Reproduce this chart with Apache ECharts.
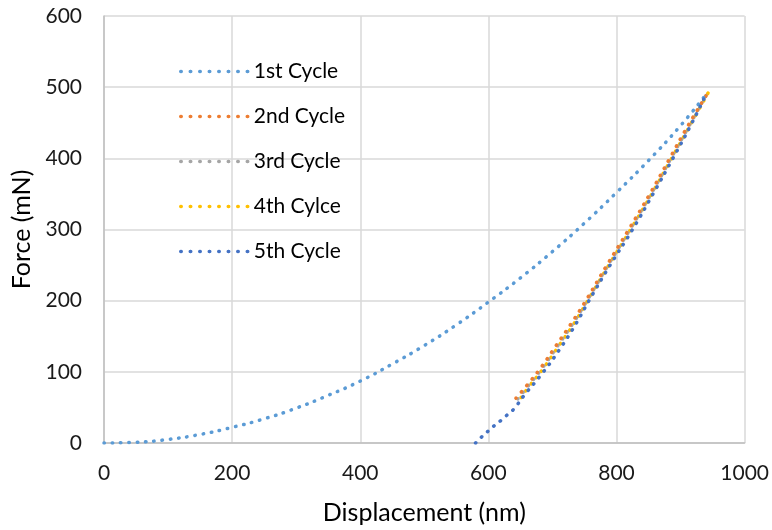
<!DOCTYPE html>
<html>
<head>
	<meta charset="utf-8">
	<script type="text/javascript" src="https://cdn.jsdelivr.net/npm/echarts@6/dist/echarts.min.js"></script>
</head>
<body style="margin:0;">
	<div id="main" style="width: 772px; height:530px; position:absolute;"></div>

	<script type="text/javascript">

		// [displacement nm, force mN]
		var cycle1 = [[0,0],[50,1],[100,5],[150,12],[200,22],[250,34],[300,49],[350,67],[400,87],[450,111],[500,137],[550,166],[600,198],[650,232],[700,269],[750,309],[800,352],[850,397],[900,446],[940,490]];
		var cycle2 = [[643,63],[660,81],[682,106],[705,136],[730,169],[752,200],[785,250],[819,300],[852,350],[883,400],[911,445],[944,494]];
		var cycle3 = [[646,62],[662,80],[684,105],[707,135],[732,168],[754,200],[787,250],[821,300],[854,350],[885,400],[913,445],[942,492]];
		var cycle4 = [[651,64],[664,80],[685,104],[708,134],[733,167],[755,200],[788,250],[822,300],[855,350],[886,400],[914,445],[943,492]];
		var cycle5 = [[580,0],[590,9],[600,17],[610,25],[620,32],[630,40],[640,48],[655,66],[686,100],[710,130],[735,165],[757,200],[790,250],[825,300],[857,350],[888,400],[915,445],[940,490]];

		var names = ['1st Cycle','2nd Cycle','3rd Cycle','4th Cylce','5th Cycle'];
		var colors = ['#5B9BD5','#ED7D31','#A5A5A5','#FFC000','#4472C4'];
		var allData = [cycle1, cycle2, cycle3, cycle4, cycle5];

		var font = 'Lato, "Open Sans", sans-serif';

		var series = [];
		for (var i = 0; i < allData.length; i++) {
			series.push({
				name: names[i],
				type: 'line',
				data: allData[i],
				smooth: true,
				symbol: 'none',
				showSymbol: false,
				z: i == 4 ? 10 : 5 - i,
				lineStyle: {
					color: colors[i],
					width: 3.5,
					type: [0.5, 7.8],
					cap: 'round'
				}
			});
		}

		var chart = echarts.init(document.getElementById('main'));
		chart.setOption({
			animation: false,
			color: colors,
			grid: { left: 104, right: 26, top: 16, bottom: 85 },
			legend: {
				orient: 'vertical',
				left: 174,
				top: 56,
				itemWidth: 68,
				itemHeight: 14,
				itemGap: 24,
				data: names,
				itemStyle: { opacity: 0 },
				lineStyle: { width: 3.5, type: [0.5, 9], cap: 'round' },
				textStyle: { fontSize: 21, color: '#000', fontFamily: font }
			},
			xAxis: {
				type: 'value',
				min: 0, max: 1000, interval: 200,
				name: 'Displacement (nm)',
				nameLocation: 'middle',
				nameGap: 57,
				nameTextStyle: { fontSize: 25, color: '#000', fontFamily: font },
				axisLine: { show: true, lineStyle: { color: '#bfbfbf', width: 1.5 } },
				axisTick: { show: false },
				axisLabel: { fontSize: 21, color: '#1a1a1a', margin: 20, fontFamily: font,
					formatter: function (v) { return String(v); } },
				splitLine: { lineStyle: { color: '#d9d9d9', width: 1.5 } }
			},
			yAxis: {
				type: 'value',
				min: 0, max: 600, interval: 100,
				name: 'Force (mN)',
				nameLocation: 'middle',
				nameGap: 69,
				nameTextStyle: { fontSize: 25, color: '#000', fontFamily: font },
				axisLine: { show: true, lineStyle: { color: '#bfbfbf', width: 1.5 } },
				axisTick: { show: false },
				axisLabel: { fontSize: 21, color: '#1a1a1a', margin: 22, fontFamily: font },
				splitLine: { lineStyle: { color: '#d9d9d9', width: 1.5 } }
			},
			series: series
		});

	</script>
</body>
</html>
